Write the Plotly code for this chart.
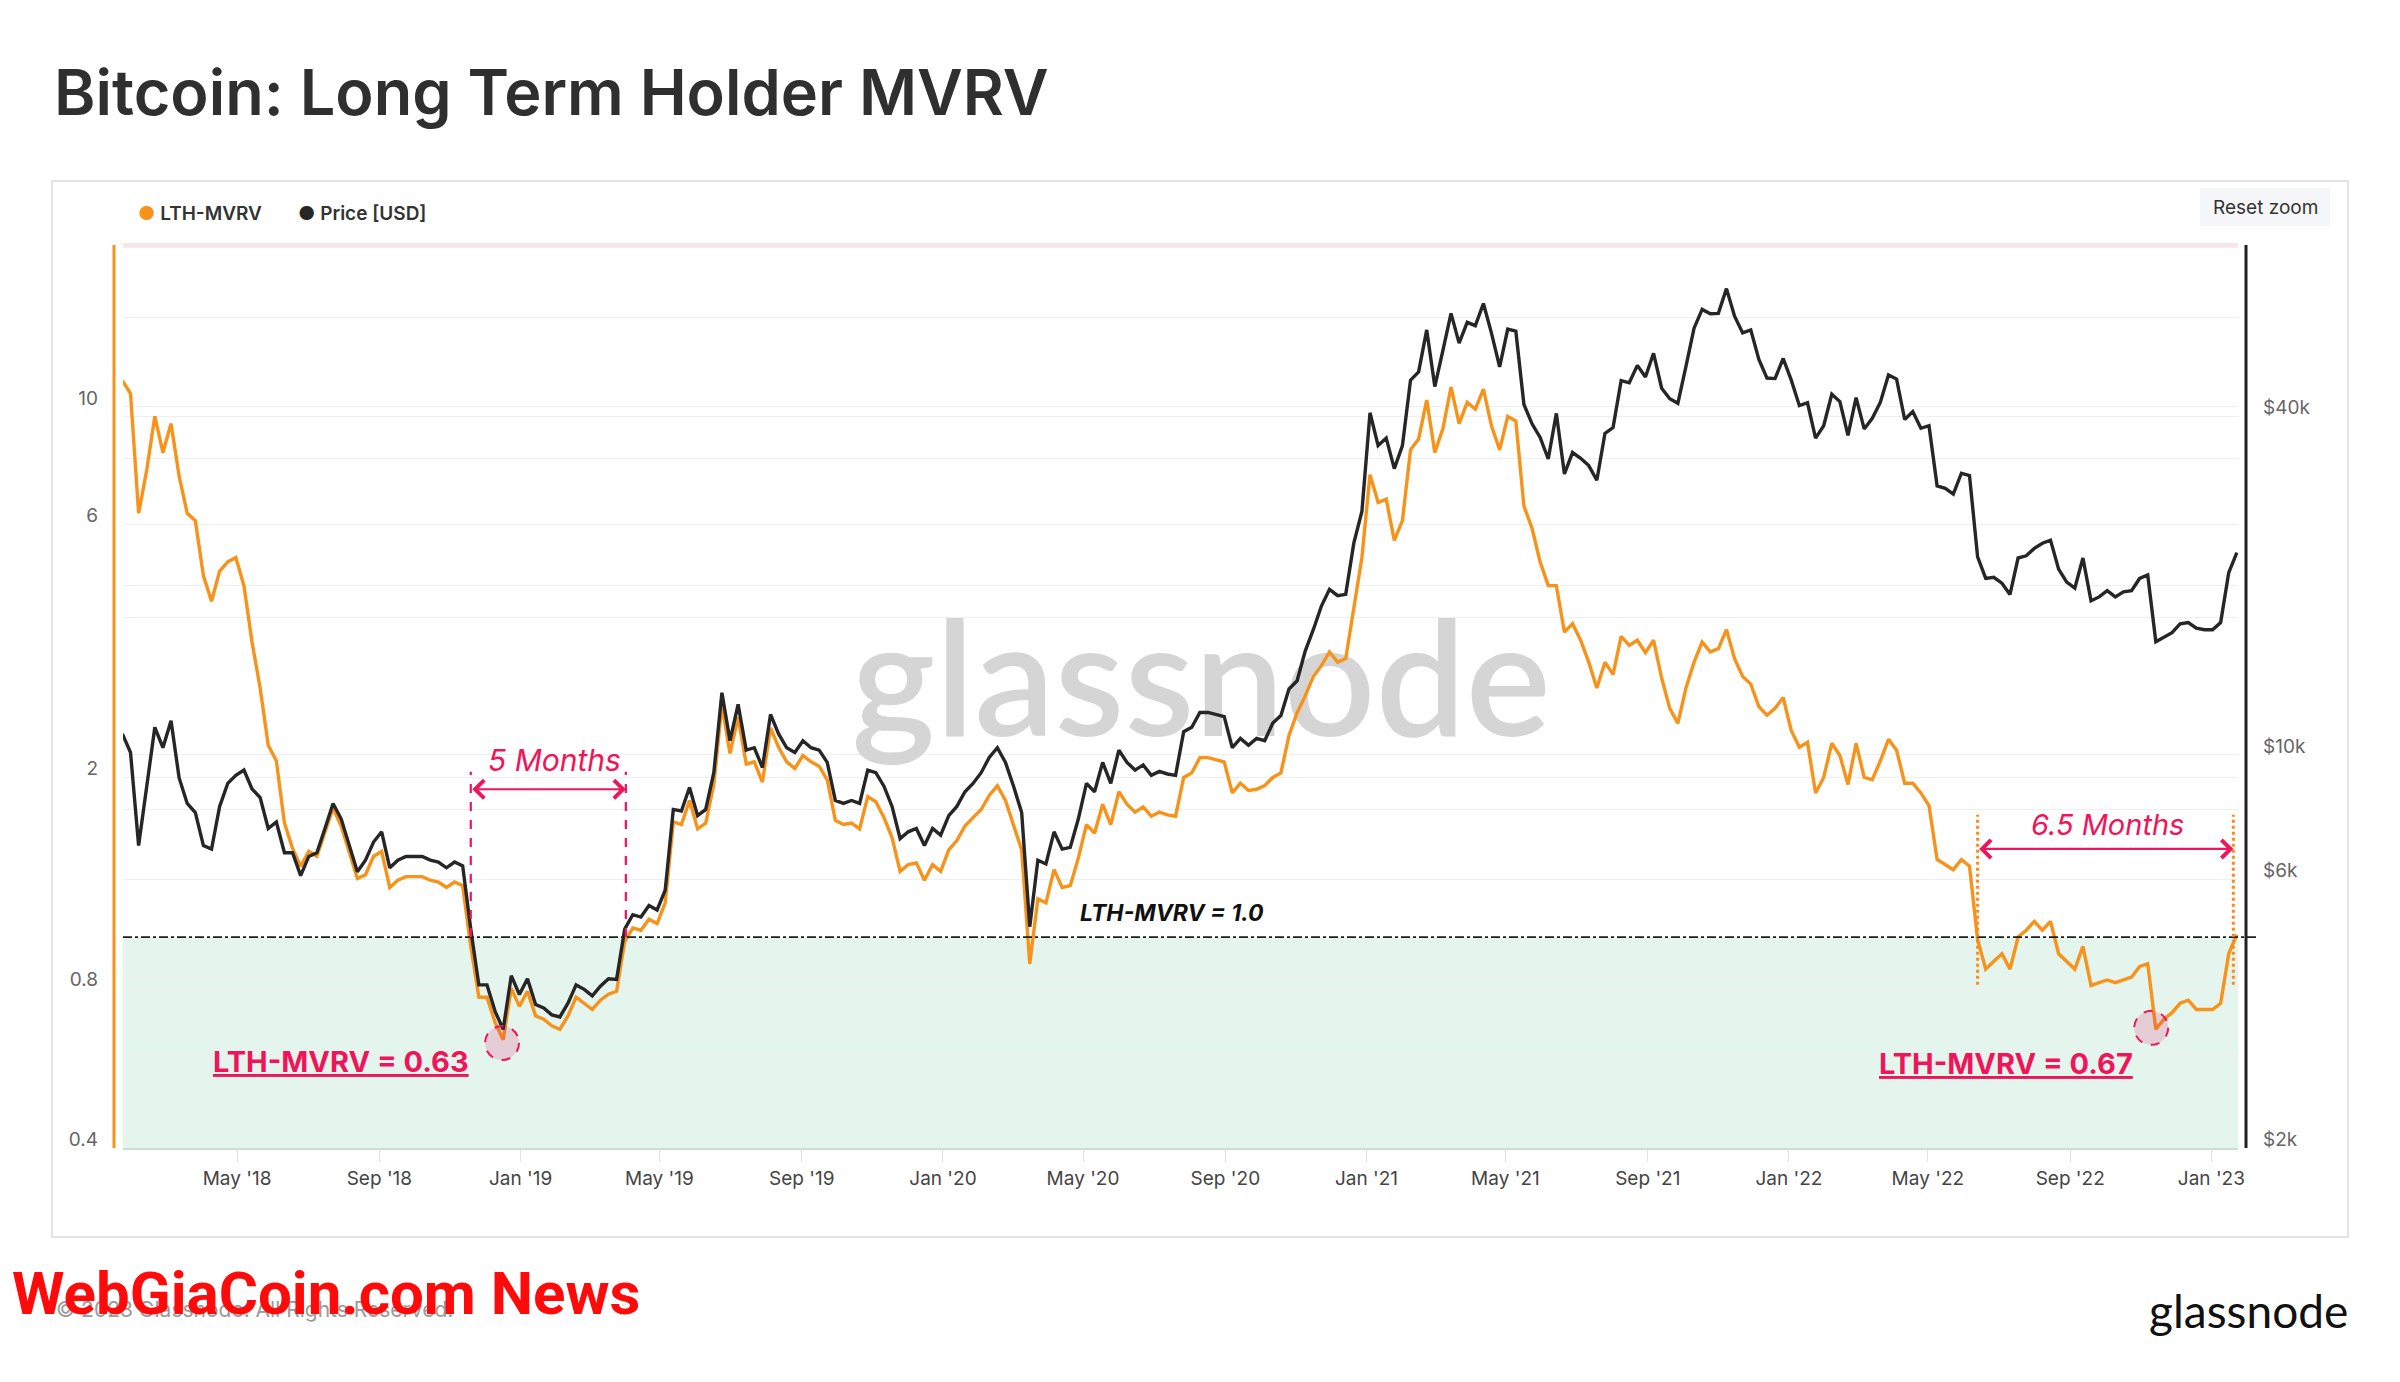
import numpy as np
import pandas as pd
import plotly.graph_objects as go

# weekly samples (Mondays) from 2018-01-22 to 2023-01-23
week_start = "2018-01-22"

lth_2018 = [11.2, 10.6, 6.3, 7.6, 9.6, 8.2, 9.3, 7.4, 6.3, 6.1,
            4.8, 4.3, 4.9, 5.1, 5.2, 4.6, 3.6, 2.95, 2.3, 2.15,
            1.64, 1.47, 1.36, 1.45, 1.42, 1.58, 1.75, 1.62, 1.45, 1.29,
            1.31, 1.42, 1.45, 1.24, 1.28, 1.30, 1.30, 1.30, 1.28, 1.27,
            1.24, 1.27, 1.25, 0.96, 0.77, 0.77, 0.69, 0.64, 0.80, 0.74]
lth_2019 = [0.79, 0.71, 0.70, 0.68, 0.67, 0.71, 0.77, 0.75, 0.73, 0.76,
            0.78, 0.79, 0.98, 1.04, 1.03, 1.08, 1.06, 1.16, 1.65, 1.63,
            1.81, 1.60, 1.64, 1.94, 2.74, 2.22, 2.60, 2.12, 2.14, 1.96,
            2.48, 2.28, 2.14, 2.08, 2.20, 2.14, 2.10, 1.98, 1.66, 1.63,
            1.64, 1.60, 1.84, 1.80, 1.68, 1.54, 1.33, 1.37, 1.38, 1.28,
            1.37, 1.33]
lth_2020 = [1.46, 1.52, 1.62, 1.68, 1.74, 1.85, 1.93, 1.81, 1.63, 1.46,
            0.89, 1.18, 1.16, 1.34, 1.24, 1.25, 1.41, 1.63, 1.57, 1.78,
            1.63, 1.88, 1.78, 1.72, 1.76, 1.69, 1.72, 1.70, 1.69, 2.00,
            2.04, 2.18, 2.18, 2.16, 2.14, 1.87, 1.95, 1.89, 1.90, 1.93,
            2.00, 2.04, 2.40, 2.65, 2.85, 3.10, 3.25, 3.45, 3.30, 3.35,
            4.20, 5.20]
lth_2021 = [7.45, 6.6, 6.7, 5.6, 6.1, 8.3, 8.7, 10.3, 8.2, 9.1,
            10.9, 9.3, 10.2, 9.9, 10.8, 9.2, 8.3, 9.6, 9.4, 6.5,
            5.9, 5.1, 4.6, 4.6, 3.76, 3.9, 3.63, 3.3, 2.95, 3.3,
            3.13, 3.69, 3.55, 3.63, 3.44, 3.63, 3.08, 2.7, 2.53, 2.95,
            3.3, 3.6, 3.45, 3.5, 3.8, 3.35, 3.1, 3.0, 2.72, 2.62,
            2.7, 2.83]
lth_2022 = [2.45, 2.28, 2.33, 1.87, 2.0, 2.32, 2.2, 1.94, 2.32, 2.0,
            1.98, 2.15, 2.36, 2.25, 1.95, 1.95, 1.87, 1.77, 1.40, 1.37,
            1.34, 1.40, 1.36, 0.99, 0.87, 0.90, 0.93, 0.87, 1.00, 1.03,
            1.07, 1.03, 1.07, 0.93, 0.90, 0.87, 0.96, 0.81, 0.82, 0.83,
            0.82, 0.83, 0.84, 0.88, 0.89, 0.67, 0.70, 0.72, 0.75, 0.76,
            0.73, 0.73]
lth_2023 = [0.73, 0.75, 0.93, 1.01]

price_2018 = [10900, 10100, 6900, 8900, 11200, 10300, 11500, 9100, 8200, 7900,
              6900, 6800, 8100, 8900, 9200, 9400, 8700, 8400, 7400, 7600,
              6700, 6700, 6100, 6600, 6700, 7400, 8200, 7700, 6900, 6200,
              6500, 7000, 7300, 6300, 6500, 6600, 6600, 6600, 6500, 6450,
              6300, 6450, 6350, 4900, 3900, 3900, 3500, 3250, 4050, 3750]
price_2019 = [4000, 3600, 3550, 3450, 3420, 3620, 3900, 3830, 3730, 3880,
              4000, 3990, 4900, 5200, 5150, 5400, 5300, 5750, 8000, 7950,
              8750, 7800, 8000, 9300, 12900, 10600, 12300, 10200, 10300, 9500,
              11800, 10900, 10300, 10100, 10600, 10300, 10200, 9700, 8300, 8200,
              8300, 8200, 9400, 9300, 8800, 8100, 7100, 7300, 7400, 6900,
              7400, 7200]
price_2020 = [7800, 8100, 8600, 8900, 9300, 9900, 10300, 9700, 8800, 7900,
              4950, 6500, 6400, 7300, 6800, 6850, 7700, 8900, 8600, 9700,
              8900, 10200, 9700, 9400, 9600, 9200, 9350, 9250, 9200, 11000,
              11200, 11900, 11900, 11800, 11700, 10300, 10700, 10400, 10700, 10600,
              11400, 11750, 13100, 13550, 15300, 16700, 18400, 19700, 19200, 19300,
              23800, 27100]
price_2021 = [40600, 35500, 36600, 32300, 35500, 46400, 48000, 57000, 45200, 52400,
              61000, 54000, 58800, 58000, 63500, 56200, 49000, 57200, 56700, 42000,
              38800, 36700, 33600, 40500, 31600, 34500, 33700, 32700, 30800, 37300,
              38200, 46300, 45900, 49300, 47000, 51800, 44900, 43000, 42200, 49100,
              57400, 62000, 60900, 61000, 67500, 60300, 56300, 57000, 50500, 46800,
              46700, 50700]
price_2022 = [46400, 41800, 42300, 36600, 38500, 43800, 42500, 37000, 43200, 38000,
              39700, 42400, 47400, 46600, 39500, 40800, 38100, 38500, 30100, 29800,
              29100, 31700, 31400, 22500, 20600, 20700, 20200, 19300, 22400, 22600,
              23300, 23800, 24100, 21400, 20300, 19800, 22400, 18800, 19100, 19600,
              19100, 19500, 19600, 20600, 20900, 15900, 16200, 16500, 17100, 17200,
              16800, 16700]
price_2023 = [16700, 17200, 21100, 22900]

lth_ticks = [0.4, 0.6, 0.8, 2, 4, 6, 8, 10, 20]
lth_labels = ["0.4", "", "0.8", "2", "", "6", "", "10", ""]
price_ticks = [2000, 4000, 6000, 8000, 10000, 20000, 40000, 60000]
price_labels = ["$2k", "", "$6k", "", "$10k", "", "$40k", ""]

lth = lth_2018 + lth_2019 + lth_2020 + lth_2021 + lth_2022 + lth_2023
price = price_2018 + price_2019 + price_2020 + price_2021 + price_2022 + price_2023
dates = pd.date_range(week_start, periods=len(lth), freq="7D")

# the page body has an 8px margin, so the figure is drawn 8px in from the corner
OFF = 8
W, H = 2400 - 2 * OFF, 1382 - 2 * OFF
# plot area in page pixels
L, R, T, B = 123, 2238, 245, 1148


def px(x):
    return (x - L) / (R - L)


def py(y):
    return (B - y) / (B - T)


ORANGE = "#F7931A"
DARK = "#262626"
PINK = "#F0145A"
FONT = "Inter, Roboto, sans-serif"

LTH_RANGE = [np.log10(0.4), np.log10(20.2)]
PRICE_RANGE = [np.log10(2000), np.log10(80700)]


def lth_paper(v):
    return (np.log10(v) - LTH_RANGE[0]) / (LTH_RANGE[1] - LTH_RANGE[0])


fig = go.Figure()

# watermark, drawn first so the lines sit on top of it
fig.add_trace(go.Scatter(
    x=[pd.Timestamp("2020-08-11")], y=[2.85], mode="text", text=["glassnode"],
    textfont=dict(size=160, color="#D5D5D5", family="Lato", weight=600),
    hoverinfo="skip", showlegend=False))

fig.add_trace(go.Scatter(
    x=dates, y=lth, name="LTH-MVRV", mode="lines",
    line=dict(color=ORANGE, width=3.4)))
fig.add_trace(go.Scatter(
    x=dates, y=price, name="Price [USD]", mode="lines", yaxis="y2",
    line=dict(color=DARK, width=3.4)))


def low_circle(day, value):
    return dict(type="circle", xref="x", yref="paper", xsizemode="pixel", ysizemode="pixel",
                xanchor=day, yanchor=lth_paper(value), x0=-17, x1=17, y0=-17, y1=17,
                fillcolor="rgba(233,30,99,0.18)", line=dict(color=PINK, width=2, dash="dash"))


shapes = [
    # area below LTH-MVRV = 1
    dict(type="rect", xref="paper", yref="y", x0=0, x1=1, y0=0.4, y1=1.0,
         fillcolor="#E4F5EE", line=dict(width=0), layer="below"),
    # top band line
    dict(type="line", xref="paper", yref="paper", x0=0, x1=1, y0=1, y1=1,
         line=dict(color="#FBE4E7", width=4)),
    # LTH-MVRV = 1 reference
    dict(type="line", xref="paper", yref="paper", x0=0, x1=px(2258),
         y0=lth_paper(1.0), y1=lth_paper(1.0),
         line=dict(color="#1E1E1E", width=1.8, dash="dashdot")),
    # axis lines
    dict(type="line", xref="paper", yref="paper", x0=px(114), x1=px(114), y0=0, y1=1,
         line=dict(color=ORANGE, width=3)),
    dict(type="line", xref="paper", yref="paper", x0=px(2246), x1=px(2246), y0=0, y1=1,
         line=dict(color="#222222", width=3)),
    # 5 months markers
    dict(type="line", xref="x", yref="y", x0="2018-11-19", x1="2018-11-19", y0=1.0, y1=2.05,
         line=dict(color=PINK, width=2.2, dash="dash")),
    dict(type="line", xref="x", yref="y", x0="2019-04-02", x1="2019-04-02", y0=1.0, y1=2.05,
         line=dict(color=PINK, width=2.2, dash="dash")),
    # 6.5 months markers
    dict(type="line", xref="x", yref="y", x0="2022-06-13", x1="2022-06-13", y0=0.813, y1=1.70,
         line=dict(color="#FF8A14", width=3, dash="dot")),
    dict(type="line", xref="x", yref="y", x0="2023-01-20", x1="2023-01-20", y0=0.813, y1=1.70,
         line=dict(color="#FF8A14", width=3, dash="dot")),
    # lows
    low_circle("2018-12-16", 0.631),
    low_circle("2022-11-10", 0.674),
    # chart frame and reset button
    dict(type="rect", xref="paper", yref="paper", x0=px(52), x1=px(2348), y0=py(1237), y1=py(181),
         line=dict(color="#E4E4E4", width=2), fillcolor="rgba(0,0,0,0)", layer="below"),
    dict(type="rect", xref="paper", yref="paper", x0=px(2200), x1=px(2330), y0=py(226), y1=py(188),
         line=dict(width=0), fillcolor="#F5F6F7", layer="below"),
]

annotations = [
    dict(text="Bitcoin: Long Term Holder MVRV", xref="paper", yref="paper",
         x=px(52), y=py(92), xanchor="left", yanchor="middle", showarrow=False,
         font=dict(size=63, color="#2F2F2F", family=FONT, weight=600)),
    dict(text="<span style='color:%s'>●</span> LTH-MVRV" % ORANGE, xref="paper", yref="paper",
         x=px(136), y=py(213), xanchor="left", yanchor="middle", showarrow=False,
         font=dict(size=19, color="#333333", family=FONT, weight=600)),
    dict(text="<span style='color:%s'>●</span> Price [USD]" % DARK, xref="paper", yref="paper",
         x=px(296), y=py(213), xanchor="left", yanchor="middle", showarrow=False,
         font=dict(size=19, color="#333333", family=FONT, weight=600)),
    dict(text="Reset zoom", xref="paper", yref="paper", x=px(2265), y=py(207),
         xanchor="center", yanchor="middle", showarrow=False,
         font=dict(size=19, color="#333333", family=FONT)),
    # LTH = 1 label
    dict(text="<b><i>LTH-MVRV = 1.0</i></b>", xref="x", yref="y", x="2020-04-27",
         y=np.log10(1.11), xanchor="left", yanchor="middle", showarrow=False,
         font=dict(size=23, color="#111111", family=FONT)),
    # 5 months
    dict(text="<i>5 Months</i>", xref="x", yref="y", x="2019-01-30", y=np.log10(2.16),
         xanchor="center", yanchor="middle", showarrow=False,
         font=dict(size=30, color=PINK, family=FONT)),
    dict(text="", xref="x", yref="y", axref="x", ayref="y",
         x="2019-04-02", y=np.log10(1.90), ax="2018-11-19", ay=np.log10(1.90),
         showarrow=True, arrowside="end+start", arrowhead=4, startarrowhead=4,
         arrowsize=1.6, startarrowsize=1.6, arrowwidth=2.2, arrowcolor=PINK),
    dict(text="<b><u>LTH-MVRV = 0.63</u></b>", xref="x", yref="y", x="2018-11-19",
         y=np.log10(0.582), xanchor="right", yanchor="middle", showarrow=False,
         font=dict(size=29, color=PINK, family=FONT)),
    # 6.5 months
    dict(text="<i>6.5 Months</i>", xref="x", yref="y", x="2022-10-03", y=np.log10(1.63),
         xanchor="center", yanchor="middle", showarrow=False,
         font=dict(size=29, color=PINK, family=FONT)),
    dict(text="", xref="x", yref="y", axref="x", ayref="y",
         x="2023-01-20", y=np.log10(1.466), ax="2022-06-13", ay=np.log10(1.466),
         showarrow=True, arrowside="end+start", arrowhead=4, startarrowhead=4,
         arrowsize=1.6, startarrowsize=1.6, arrowwidth=2.2, arrowcolor=PINK),
    dict(text="<b><u>LTH-MVRV = 0.67</u></b>", xref="x", yref="y", x="2022-10-27",
         y=np.log10(0.577), xanchor="right", yanchor="middle", showarrow=False,
         font=dict(size=29, color=PINK, family=FONT)),
    # footer
    dict(text="© 2023 Glassnode. All Rights Reserved.", xref="paper", yref="paper",
         x=px(54), y=py(1309), xanchor="left", yanchor="middle", showarrow=False,
         font=dict(size=21, color="#9A9A9A", family=FONT)),
    dict(text="WebGiaCoin.com News", xref="paper", yref="paper",
         x=px(10), y=py(1293), xanchor="left", yanchor="middle", showarrow=False,
         font=dict(size=60, color="#FF0A0A", family="Roboto", weight=700)),
    dict(text="glassnode", xref="paper", yref="paper",
         x=px(2350), y=py(1310), xanchor="right", yanchor="middle", showarrow=False,
         font=dict(size=46, color="#111111", family="Lato")),
]

fig.update_layout(
    width=W, height=H,
    margin=dict(l=L - OFF, r=W - (R - OFF), t=T - OFF, b=H - (B - OFF), pad=0),
    paper_bgcolor="white", plot_bgcolor="white",
    showlegend=False,
    font=dict(family=FONT, color="#333333"),
    xaxis=dict(
        type="date", range=["2018-01-22 12:00", "2023-01-24"],
        tickvals=pd.date_range("2018-05-01", "2023-01-01", freq="4MS"),
        tickformat="%b '%y", showgrid=False, zeroline=False,
        ticks="outside", ticklen=12, tickcolor="#E3E3E3",
        showline=True, linecolor="#CFDCD5", linewidth=2,
        tickfont=dict(size=19, color="#444444"),
    ),
    yaxis=dict(
        type="log", range=LTH_RANGE, tickvals=lth_ticks, ticktext=lth_labels,
        gridcolor="#EFEFEF", zeroline=False, showline=False,
        tickfont=dict(size=19, color="#666666"),
        ticklabelstandoff=24, ticklabelshift=-9,
    ),
    yaxis2=dict(
        type="log", overlaying="y", side="right", range=PRICE_RANGE,
        tickvals=price_ticks, ticktext=price_labels,
        gridcolor="#EFEFEF", zeroline=False, showline=False,
        tickfont=dict(size=19, color="#666666"),
        ticklabelstandoff=24, ticklabelshift=-9,
    ),
    shapes=shapes,
    annotations=annotations,
)

fig.write_html("out.html")
